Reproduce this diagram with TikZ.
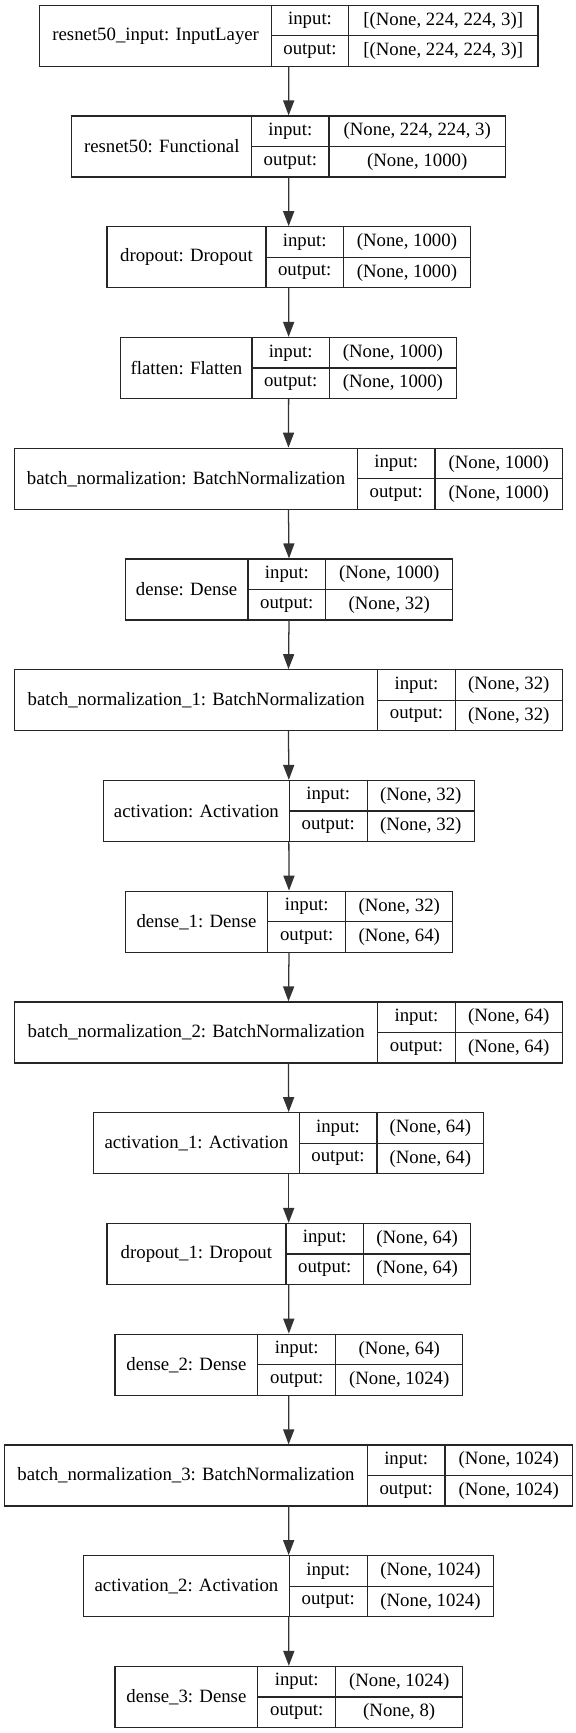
\documentclass[tikz,border=0pt]{standalone}
\usepackage{fontspec}
\setmainfont{Liberation Serif}
\usetikzlibrary{arrows.meta}
\newcommand\klayer[9]{%
  \node[outerbox, minimum width={#6pt-#3pt}] (#1) at ({(#3+#6)/2},{#2+27.6}) {};
  \node[cellbox, minimum width={#4pt-#3pt}, minimum height=55.2pt] (#1-t) at ({(#3+#4)/2},{#2+27.6}) {#7};
  \node[cellbox, minimum width={#5pt-#4pt}] (#1-i) at ({(#4+#5)/2},{#2+13.8}) {input:};
  \node[cellbox, minimum width={#5pt-#4pt}] (#1-o) at ({(#4+#5)/2},{#2+41.4}) {output:};
  \node[cellbox, minimum width={#6pt-#5pt}] (#1-ia) at ({(#5+#6)/2},{#2+13.8}) {#8};
  \node[cellbox, minimum width={#6pt-#5pt}] (#1-oa) at ({(#5+#6)/2},{#2+41.4}) {#9};
  \draw[rule] (#1-i.north west) -- (#1-o.south west);
  \draw[rule] (#1-i.north east) -- (#1-o.south east);
  \draw[rule] (#1-i.south west) -- (#1-ia.south east);
}
\begin{document}
\begin{tikzpicture}[x=1pt,y=-1pt,
  rule/.style={draw=black!85, line width=1.15pt},
  outerbox/.style={rule, minimum height=55.2pt, inner sep=0pt, outer sep=0pt},
  cellbox/.style={minimum height=27.6pt, inner sep=0pt, outer sep=0pt,
    font=\fontsize{17}{20}\selectfont, text=black},
  arr/.style={draw=black!80, line width=1.15pt, -{Triangle[length=13.5pt,width=10pt]}, shorten >=0.6pt}]
\useasboundingbox (0,0) rectangle (521,1568);
\klayer{b0}{4.8}{36}{245.7}{315.3}{486.7}{resnet50\_input: InputLayer}{[(None, 224, 224, 3)]}{[(None, 224, 224, 3)]}
\klayer{b1}{105.0}{65}{227.7}{297.7}{457.3}{resnet50: Functional}{(None, 224, 224, 3)}{(None, 1000)}
\klayer{b2}{205.2}{96.7}{240.7}{310.7}{425.7}{dropout: Dropout}{(None, 1000)}{(None, 1000)}
\klayer{b3}{305.4}{109.3}{228}{298}{413}{flatten: Flatten}{(None, 1000)}{(None, 1000)}
\klayer{b4}{405.6}{13.3}{323.3}{393.7}{508.7}{batch\_normalization: BatchNormalization}{(None, 1000)}{(None, 1000)}
\klayer{b5}{505.8}{113.3}{224.3}{294.7}{409.7}{dense: Dense}{(None, 1000)}{(None, 32)}
\klayer{b6}{606.0}{13.3}{341.7}{412}{508.7}{batch\_normalization\_1: BatchNormalization}{(None, 32)}{(None, 32)}
\klayer{b7}{706.2}{93.7}{261.7}{332.3}{429}{activation: Activation}{(None, 32)}{(None, 32)}
\klayer{b8}{806.4}{113.3}{242.3}{312.7}{409.7}{dense\_1: Dense}{(None, 32)}{(None, 64)}
\klayer{b9}{906.6}{13.3}{341.7}{412}{508.7}{batch\_normalization\_2: BatchNormalization}{(None, 64)}{(None, 64)}
\klayer{b10}{1006.8}{84.7}{270.7}{341}{437.7}{activation\_1: Activation}{(None, 64)}{(None, 64)}
\klayer{b11}{1107.0}{96.7}{258.7}{329}{425.7}{dropout\_1: Dropout}{(None, 64)}{(None, 64)}
\klayer{b12}{1207.2}{104}{233.3}{303.7}{418.7}{dense\_2: Dense}{(None, 64)}{(None, 1024)}
\klayer{b13}{1307.4}{4.3}{332.3}{402.7}{518}{batch\_normalization\_3: BatchNormalization}{(None, 1024)}{(None, 1024)}
\klayer{b14}{1407.6}{75.7}{261.7}{332.3}{446.7}{activation\_2: Activation}{(None, 1024)}{(None, 1024)}
\klayer{b15}{1507.8}{104}{233.3}{303.7}{418.7}{dense\_3: Dense}{(None, 1024)}{(None, 8)}
\foreach \a/\b in {b0/b1,b1/b2,b2/b3,b3/b4,b4/b5,b5/b6,b6/b7,b7/b8,b8/b9,b9/b10,b10/b11,b11/b12,b12/b13,b13/b14,b14/b15}
  \draw[arr] (\a.south) -- (\b.north);
\end{tikzpicture}
\end{document}
